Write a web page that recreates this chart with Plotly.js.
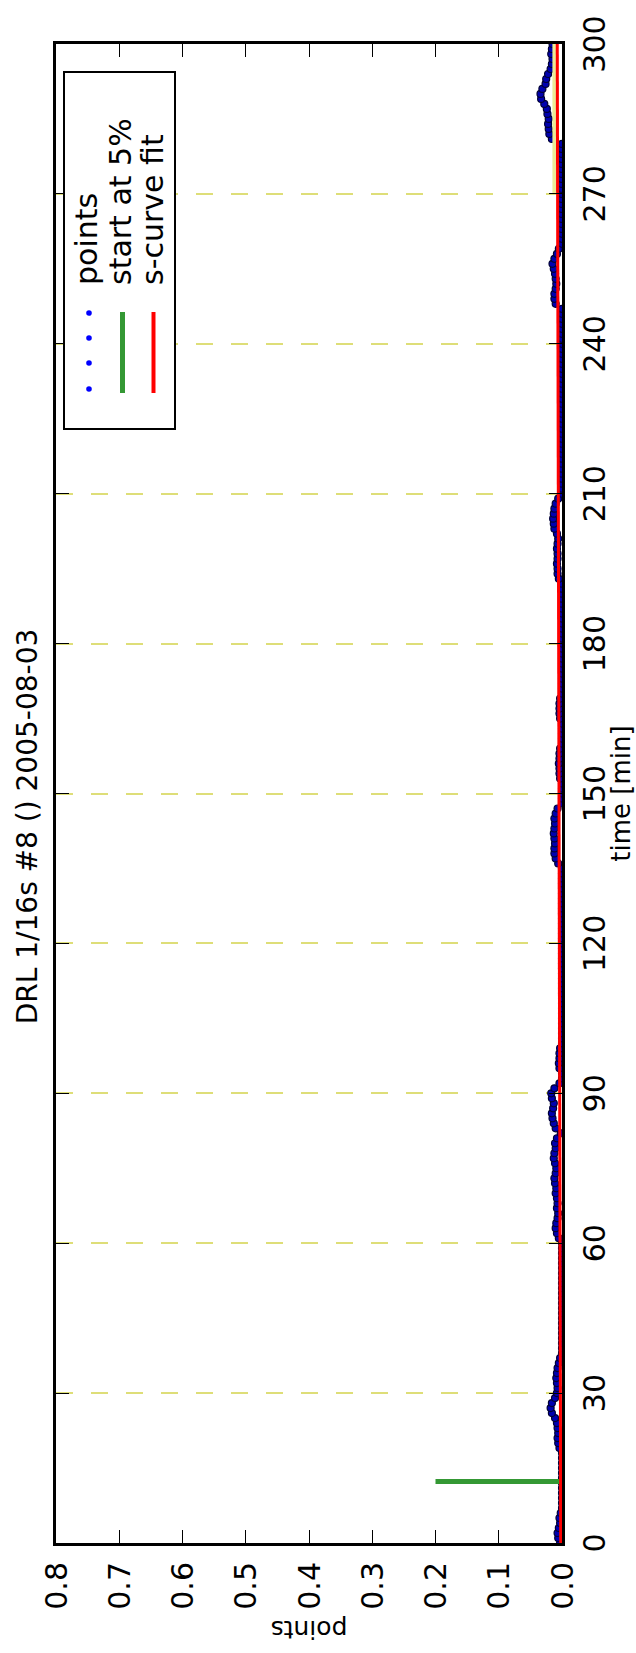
<!DOCTYPE html>
<html><head><meta charset="utf-8">
<script src="https://cdn.plot.ly/plotly-3.0.1.min.js"></script>
<style>
html,body{margin:0;padding:0;width:636px;height:1653px;overflow:hidden;background:#fff;}
#wrap{position:absolute;left:0;top:0;width:1653px;height:636px;transform-origin:0 0;transform:translate(0px,1653px) rotate(-90deg);}
#chart{width:1653px;height:636px;}
</style></head><body><div id="wrap"><div id="chart"></div></div>
<script>
// ---- data ----
const chartTitle = "DRL 1/16s #8 () 2005-08-03";
const xLabel = "time [min]";
const yLabel = "points";
const xTickVals = [0,30,60,90,120,150,180,210,240,270,300];
const yTickVals = [0,0.1,0.2,0.3,0.4,0.5,0.6,0.7,0.8];
const yTickText = ["0.0","0.1","0.2","0.3","0.4","0.5","0.6","0.7","0.8"];
const legendNames = ["points","start at 5%","s-curve fit"];

const pointTimes = [
0,1,2,3,4,5,6,7,8,9,
10,11,12,13,14,15,16,17,18,19,
20,21,22,23,24,25,26,27,28,29,
30,31,32,33,34,35,36,37,38,39,
40,41,42,43,44,45,46,47,48,49,
50,51,52,53,54,55,56,57,58,59,
60,61,62,63,64,65,66,67,68,69,
70,71,72,73,74,75,76,77,78,79,
80,81,82,83,84,85,86,87,88,89,
90,91,92,93,94,95,96,97,98,99,
100,101,102,103,104,105,106,107,108,109,
110,111,112,113,114,115,116,117,118,119,
120,121,122,123,124,125,126,127,128,129,
130,131,132,133,134,135,136,137,138,139,
140,141,142,143,144,145,146,147,148,149,
150,151,152,153,154,155,156,157,158,159,
160,161,162,163,164,165,166,167,168,169,
170,171,172,173,174,175,176,177,178,179,
180,181,182,183,184,185,186,187,188,189,
190,191,192,193,194,195,196,197,198,199,
200,201,202,203,204,205,206,207,208,209,
210,211,212,213,214,215,216,217,218,219,
220,221,222,223,224,225,226,227,228,229,
230,231,232,233,234,235,236,237,238,239,
240,241,242,243,244,245,246,247,248,249,
250,251,252,253,254,255,256,257,258,259,
260,261,262,263,264,265,266,267,268,269,
270,271,272,273,274,275,276,277,278,279,
280,281,282,283,284,285,286,287,288,289,
290,291,292,293,294,295,296,297,298,299,
300];
const pointValues = [
0.003,0.006,0.007,0.005,0.003,0.004,0.002,0,0,0,
0,0,0,0,0,0,0,0,0,0.004,
0.006,0.007,0.006,0.007,0.008,0.011,0.016,0.018,0.016,0.011,
0.008,0.007,0.008,0.009,0.008,0.007,0.005,0.003,0,0,
0,0,0,0,0,0,0,0,0,0,
0,0,0,0,0,0,0,0,0,0,
0,0.005,0.008,0.010,0.009,0.007,0.006,0.008,0.007,0.008,
0.010,0.009,0.011,0.012,0.010,0.009,0.011,0.013,0.012,0.010,
0.011,0.008,0.002,0.010,0.013,0.015,0.016,0.014,0.013,0.016,
0.017,0.012,0.004,0,0,0.004,0.005,0.004,0.004,0.003,
0,0,0,0,0,0,0,0,0,0,
0,0,0,0,0,0,0,0,0,0,
0,0,0,0,0,0,0,0,0,0,
0,0,0,0,0,0,0.006,0.010,0.012,0.012,
0.011,0.012,0.013,0.012,0.011,0.012,0.010,0.007,0,0,
0,0,0,0.003,0.004,0.004,0.005,0.004,0.004,0.003,
0,0,0,0,0,0.003,0.004,0.004,0.004,0.003,
0,0,0,0,0,0,0,0,0,0,
0,0,0,0,0,0,0,0,0,0,
0,0,0,0.005,0.007,0.007,0.008,0.007,0.007,0.008,
0.007,0.006,0.008,0.012,0.013,0.014,0.013,0.012,0.010,0.006,
0,0,0,0,0,0,0,0,0,0,
0,0,0,0,0,0,0,0,0,0,
0,0,0,0,0,0,0,0,0,0,
0,0,0,0,0,0,0,0,0.010,0.012,
0.012,0.010,0.009,0.010,0.011,0.013,0.015,0.012,0.008,0.005,
0,0,0,0,0,0,0,0,0,0,
0,0,0,0,0,0,0,0,0,0,
0,0.016,0.020,0.021,0.022,0.021,0.023,0.024,0.028,0.033,
0.034,0.031,0.026,0.025,0.022,0.018,0.016,0.015,0.017,0.016,
0.015];

const startTimes = [12.3, 12.3];
const startValues = [0.0, 0.2];

const fitTimes = [0, 60, 120, 180, 240, 300];
const fitValues = [0.002, 0.003, 0.0035, 0.005, 0.006, 0.0075];

const endTimes = [270, 300];
const endValues = [0.012, 0.012];

// ---- layout geometry (unrotated figure) ----
const W = 1653, H = 636, L = 110, R = 44, T = 56, B = 74;
const PW = W - L - R, PH = H - T - B;
const fx = ox => (ox - L) / PW;
const fy = oy => (H - B - oy) / PH;
const FONT = "DejaVu Sans";
const gridCol = "rgb(222,222,120)";

const traces = [
  {x: pointTimes, y: pointValues, type: "scatter", mode: "markers", name: legendNames[0],
   marker: {size: 7, color: "rgb(0,0,175)", line: {color: "rgb(0,0,55)", width: 1.2}}},
  {x: endTimes, y: endValues, type: "scatter", mode: "lines", showlegend: false,
   line: {color: "rgb(235,235,150)", width: 4}},
  {x: startTimes, y: startValues, type: "scatter", mode: "lines", name: legendNames[1],
   line: {color: "rgb(52,152,52)", width: 5}},
  {x: fitTimes, y: fitValues, type: "scatter", mode: "lines", name: legendNames[2],
   line: {color: "rgb(255,0,0)", width: 3}}
];

// hand-drawn legend (matplotlib style)
const shapes = [
  {type: "rect", xref: "paper", yref: "paper", x0: fx(1224), x1: fx(1581), y0: fy(175), y1: fy(64),
   line: {color: "black", width: 2}, fillcolor: "white", layer: "above"}
];
[1264, 1290, 1315, 1340].forEach(ox => {
  shapes.push({type: "circle", xref: "paper", yref: "paper",
    x0: fx(ox - 2.8), x1: fx(ox + 2.8), y0: fy(89 + 2.8), y1: fy(89 - 2.8),
    line: {color: "rgb(0,0,255)", width: 0}, fillcolor: "rgb(0,0,255)", layer: "above"});
});
shapes.push({type: "line", xref: "paper", yref: "paper", x0: fx(1260), x1: fx(1341), y0: fy(122.5), y1: fy(122.5),
  line: {color: "rgb(52,152,52)", width: 5}, layer: "above"});
shapes.push({type: "line", xref: "paper", yref: "paper", x0: fx(1260), x1: fx(1341), y0: fy(153.5), y1: fy(153.5),
  line: {color: "rgb(255,0,0)", width: 4}, layer: "above"});

const annotations = legendNames.map((n, i) => ({
  text: n, xref: "paper", yref: "paper", x: fx(1366), y: fy([87, 120, 152][i]),
  xanchor: "left", yanchor: "middle", showarrow: false,
  font: {family: FONT, size: 30, color: "black"}
}));

const axisCommon = {
  showline: true, linecolor: "black", linewidth: 3, mirror: "allticks",
  ticks: "inside", ticklen: 13, tickwidth: 1, tickcolor: "black",
  tickfont: {family: FONT, size: 30, color: "black"},
  zeroline: false
};

const layout = {
  width: W, height: H,
  margin: {l: L, r: R, t: T, b: B, pad: 0},
  paper_bgcolor: "white", plot_bgcolor: "white",
  showlegend: false,
  title: {text: chartTitle, font: {family: FONT, size: 28, color: "black"},
    x: 0.5, xref: "container", xanchor: "center", y: 1 - 27 / H, yref: "container", yanchor: "middle"},
  xaxis: Object.assign({}, axisCommon, {
    range: [0, 300], tickmode: "array", tickvals: xTickVals,
    showgrid: true, gridcolor: gridCol, gridwidth: 2, griddash: "17px,18px",
    ticklabelstandoff: 4,
    title: {text: xLabel, font: {family: FONT, size: 26, color: "black"}, standoff: 8}
  }),
  yaxis: Object.assign({}, axisCommon, {
    range: [0, 0.8], tickmode: "array", tickvals: yTickVals, ticktext: yTickText,
    showgrid: false, ticklabelstandoff: 10,
    title: {text: yLabel, font: {family: FONT, size: 25, color: "black"}, standoff: 4}
  }),
  shapes: shapes,
  annotations: annotations
};

Plotly.newPlot("chart", traces, layout, {displayModeBar: false, staticPlot: true});
</script>
</body></html>
